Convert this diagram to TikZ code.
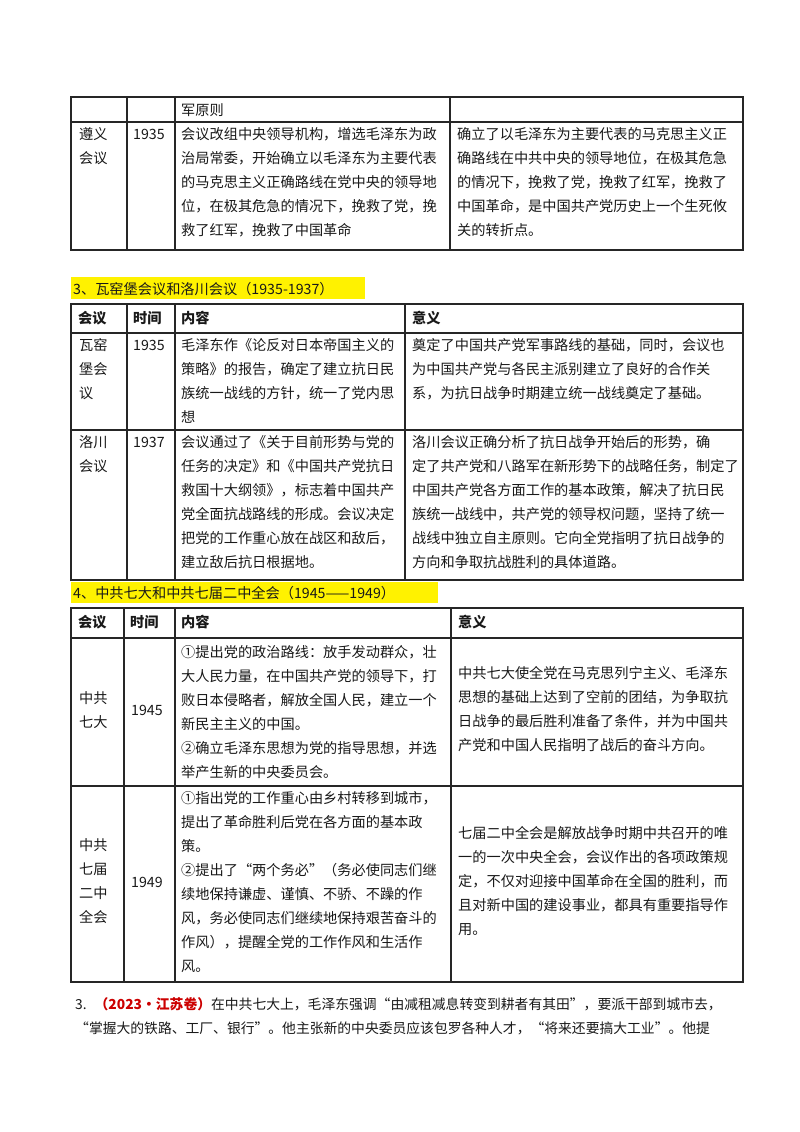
\documentclass[tikz,border=0pt]{standalone}
\usepackage{fontspec}
\setmainfont{Noto Sans CJK SC}
\newfontfamily\cjk{Noto Sans CJK SC}
\begin{document}
\begin{tikzpicture}[x=1pt,y=-1pt,
  txt/.style={inner sep=0pt,font=\cjk\fontsize{14.2}{24}\selectfont,text=black!90},
  hd/.style={txt,font=\cjk\bfseries\fontsize{14.2}{24}\selectfont},
  grid/.style={line width=1.1pt,black!85}]
\newcommand\tl[3]{\foreach \t [count=\i from 0] in {#3} \node[txt,anchor=base west] at (#1,{#2+24*\i+5}) {\t};}
\useasboundingbox[fill=white] (0,0) rectangle (800,1132);
% ---------- table 1
\draw[grid] (71,97) rectangle (743,250);
\draw[grid] (71,122) -- (743,122);
\foreach \c in {127,175,450} \draw[grid] (\c,97) -- (\c,250);
\tl{181}{110}{军原则}
\tl{79}{134}{遵义,会议}
\tl{133}{134}{1935}
\tl{181}{134}{会议改组中央领导机构，增选毛泽东为政,治局常委，开始确立以毛泽东为主要代表,的马克思主义正确路线在党中央的领导地,位，在极其危急的情况下，挽救了党，挽,救了红军，挽救了中国革命}
\tl{457}{134}{确立了以毛泽东为主要代表的马克思主义正,确路线在中共中央的领导地位，在极其危急,的情况下，挽救了党，挽救了红军，挽救了,中国革命，是中国共产党历史上一个生死攸,关的转折点。}
% ---------- heading 3
\fill[yellow] (71,277) rectangle (365,299);
\node[txt,anchor=base west] (h3) at (73,294) {3、瓦窑堡会议和洛川会议（1935-1937）};
% ---------- table 2
\draw[grid] (71,304) rectangle (743,580);
\draw[grid] (71,333) -- (743,333);
\draw[grid] (71,430) -- (743,430);
\foreach \c in {127,175,405} \draw[grid] (\c,304) -- (\c,580);
\node[hd,anchor=base west] at (78,323) {会议};
\node[hd,anchor=base west] at (133,323) {时间};
\node[hd,anchor=base west] at (181,323) {内容};
\node[hd,anchor=base west] at (412,323) {意义};
\tl{79}{345}{瓦窑,堡会,议}
\tl{133}{345}{1935}
\tl{181}{345}{毛泽东作《论反对日本帝国主义的,策略》的报告，确定了建立抗日民,族统一战线的方针，统一了党内思,想}
\tl{412}{345}{奠定了中国共产党军事路线的基础，同时，会议也,为中国共产党与各民主派别建立了良好的合作关,系，为抗日战争时期建立统一战线奠定了基础。}
\tl{79}{442}{洛川,会议}
\tl{133}{442}{1937}
\tl{181}{442}{会议通过了《关于目前形势与党的,任务的决定》和《中国共产党抗日,救国十大纲领》，标志着中国共产,党全面抗战路线的形成。会议决定,把党的工作重心放在战区和敌后，,建立敌后抗日根据地。}
\tl{412}{442}{洛川会议正确分析了抗日战争开始后的形势，确,定了共产党和八路军在新形势下的战略任务，制定了,中国共产党各方面工作的基本政策，解决了抗日民,族统一战线中，共产党的领导权问题，坚持了统一,战线中独立自主原则。它向全党指明了抗日战争的,方向和争取抗战胜利的具体道路。}
% ---------- heading 4
\fill[yellow] (71,582) rectangle (438,603);
\node[txt,anchor=base west] (h4) at (73,598) {4、中共七大和中共七届二中全会（1945——1949）};
% ---------- table 3
\draw[grid] (71,608) rectangle (743,982);
\draw[grid] (71,638) -- (743,638);
\draw[grid] (71,786) -- (743,786);
\foreach \c in {124,175,451} \draw[grid] (\c,608) -- (\c,982);
\node[hd,anchor=base west] at (78,627) {会议};
\node[hd,anchor=base west] at (130,627) {时间};
\node[hd,anchor=base west] at (181,627) {内容};
\node[hd,anchor=base west] at (458,627) {意义};
\tl{79}{698}{中共,七大}
\tl{131}{710}{1945}
\tl{181}{652}{①提出党的政治路线：放手发动群众，壮,大人民力量，在中国共产党的领导下，打,败日本侵略者，解放全国人民，建立一个,新民主主义的中国。,②确立毛泽东思想为党的指导思想，并选,举产生新的中央委员会。}
\tl{458}{673}{中共七大使全党在马克思列宁主义、毛泽东,思想的基础上达到了空前的团结，为争取抗,日战争的最后胜利准备了条件，并为中国共,产党和中国人民指明了战后的奋斗方向。}
\tl{79}{845}{中共,七届,二中,全会}
\tl{131}{882}{1949}
\tl{181}{798}{①指出党的工作重心由乡村转移到城市，,提出了革命胜利后党在各方面的基本政,策。,②提出了“两个务必”（务必使同志们继,续地保持谦虚、谨慎、不骄、不躁的作,风，务必使同志们继续地保持艰苦奋斗的,作风），提醒全党的工作作风和生活作,风。}
\tl{458}{833}{七届二中全会是解放战争时期中共召开的唯,一的一次中央全会，会议作出的各项政策规,定，不仅对迎接中国革命在全国的胜利，而,且对新中国的建设事业，都具有重要指导作,用。}
% ---------- question
\node[txt,anchor=base west,font=\cjk\fontsize{13.8}{24}\selectfont] (q1) at (75,1009) {3.\hspace{8pt}\textcolor{red!80!black}{\bfseries（2023·江苏卷）}在中共七大上，毛泽东强调“由减租减息转变到耕者有其田”，要派干部到城市去，};
\node[txt,anchor=base west,font=\cjk\fontsize{13.8}{24}\selectfont] (q2) at (75,1033) {“掌握大的铁路、工厂、银行”。他主张新的中央委员应该包罗各种人才，“将来还要搞大工业”。他提};
\end{tikzpicture}
\end{document}
